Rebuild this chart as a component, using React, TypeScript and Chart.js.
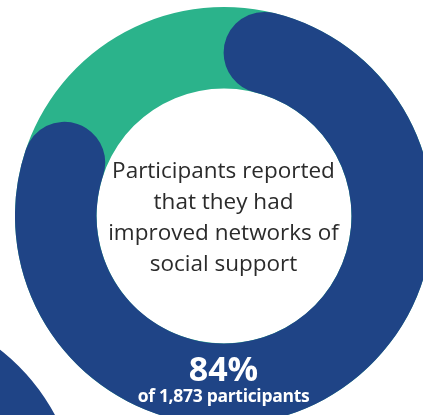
import React, { useEffect, useRef } from "react";
import { Chart, registerables } from "chart.js";

Chart.register(...registerables);

// Data
const categories = ["Improved networks of social support", "Other"];
const shareValues = [84, 16];
const backgroundRing = [100];
const neighborRing = [100];
const headline = "84%";
const subline = "of 1,873 participants";
const centerLines = ["Participants reported", "that they had", "improved networks of", "social support"];

const NAVY = "#1f4486";
const GREEN = "#2bb38b";

function Donut(props: {
  data: number[];
  colors: string[];
  radii: number[];
  rotation: number;
  left: number;
  top: number;
  size: number;
  labels: string[];
}) {
  const ref = useRef<HTMLCanvasElement | null>(null);
  useEffect(() => {
    if (!ref.current) return;
    const chart = new Chart(ref.current, {
      type: "doughnut",
      data: {
        labels: props.labels,
        datasets: [
          {
            data: props.data,
            backgroundColor: props.colors,
            borderWidth: 0,
            borderRadius: props.radii,
            hoverOffset: 0,
            offset: 0,
          } as any,
        ],
      },
      options: {
        responsive: false,
        maintainAspectRatio: false,
        animation: false,
        devicePixelRatio: 1,
        cutout: "61%",
        rotation: props.rotation,
        layout: { padding: 0 },
        plugins: { legend: { display: false }, tooltip: { enabled: false } },
        events: [],
      } as any,
    });
    return () => chart.destroy();
  }, []);
  return (
    <canvas
      ref={ref}
      width={props.size}
      height={props.size}
      style={{ position: "absolute", left: props.left, top: props.top, width: props.size, height: props.size }}
    />
  );
}

export default function App() {
  const size = 418;
  const cx = 223.5;
  const cy = 216;
  return (
    <div
      style={{
        position: "fixed",
        left: 0,
        top: 0,
        width: 423,
        height: 415,
        overflow: "hidden",
        background: "#ffffff",
      }}
    >
      <Donut data={neighborRing} colors={[NAVY]} radii={[0]} rotation={0} left={-338} top={305} size={size} labels={["Neighbor"]} />
      <Donut data={backgroundRing} colors={[GREEN]} radii={[0]} rotation={0} left={cx - size / 2} top={cy - size / 2} size={size} labels={["All"]} />
      <Donut data={shareValues} colors={[NAVY, "rgba(0,0,0,0)"]} radii={[100, 0]} rotation={0} left={cx - size / 2} top={cy - size / 2} size={size} labels={categories} />
      <div
        style={{
          position: "absolute",
          left: cx - 140,
          width: 280,
          top: 154,
          textAlign: "center",
          fontFamily: "'Open Sans', sans-serif",
          fontSize: 22.5,
          lineHeight: "31px",
          color: "#2b2b2b",
        }}
      >
        {centerLines.map((l, i) => (
          <div key={i}>{l}</div>
        ))}
      </div>
      <div
        style={{
          position: "absolute",
          left: cx - 120,
          width: 240,
          top: 348,
          textAlign: "center",
          fontFamily: "'Open Sans', sans-serif",
          fontWeight: 700,
          fontSize: 34,
          lineHeight: "40px",
          color: "#ffffff",
        }}
      >
        {headline}
      </div>
      <div
        style={{
          position: "absolute",
          left: cx - 120,
          width: 240,
          top: 384,
          textAlign: "center",
          fontFamily: "'Open Sans', sans-serif",
          fontWeight: 700,
          fontSize: 17.5,
          lineHeight: "22px",
          letterSpacing: "-0.3px",
          color: "#ffffff",
        }}
      >
        {subline}
      </div>
    </div>
  );
}
